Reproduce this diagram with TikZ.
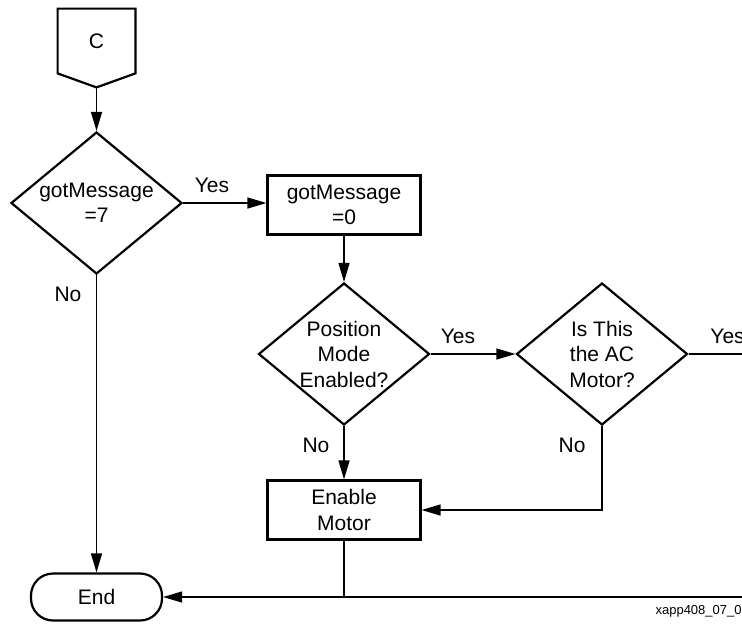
\documentclass[tikz,border=0pt]{standalone}
\usepackage{fontspec}
\setmainfont{Liberation Sans}
\usetikzlibrary{shapes.geometric,arrows.meta}
\begin{document}
\begin{tikzpicture}[x=0.5pt,y=-0.5pt]
\tikzstyle{every node}+=[inner sep=0pt, align=center, font=\fontsize{10.5}{12.75}\selectfont]
\tikzstyle{decision}=[draw, line width=1.1pt, diamond, aspect=1.2, minimum width=85.5pt, minimum height=71pt]
\tikzstyle{process}=[draw, line width=1.1pt, rectangle, minimum width=76.5pt, minimum height=29.5pt]
\tikzstyle{terminal}=[draw, line width=1.1pt, rectangle, rounded corners=11pt, minimum width=65.5pt, minimum height=23.5pt]
\tikzstyle{flow}=[line width=0.65pt, -{Triangle[length=9.5pt,width=5.5pt]}]
\tikzstyle{line}=[line width=0.65pt]
\useasboundingbox (0,0) rectangle (742,632);
\node (C) [minimum width=38.5pt, minimum height=32pt] at (96.5,41) {C};
\coordinate (Ctip) at ([yshift=-7pt]C.south);
\draw [line width=1.1pt] (C.north west) -- (C.north east) -- (C.south east) -- (Ctip) -- (C.south west) -- cycle;
\node (got7) [decision] at (96.5,203) {gotMessage\\=7};
\node (got0) [process] at (344,205) {gotMessage\\=0};
\node (posmode) [decision] at (344,354) {Position\\Mode\\Enabled?};
\node (acmotor) [decision] at (602,354) {Is This\\the AC\\Motor?};
\node (enable) [process] at (344,510) {Enable\\Motor};
\node (end) [terminal] at (96.5,597) {End};
\coordinate (acyes) at (742,354);
\coordinate (busR) at (742,597);
\draw [flow] (Ctip) -- (got7.north);
\draw [flow] (got7.east) -- (got7.east -| got0.west);
\draw (212,185) node {Yes};
\draw [flow] (got7.south) -- (end.north);
\draw (68,294) node {No};
\draw [flow] (got0.south) -- (posmode.north);
\draw [flow] (posmode.east) -- (acmotor.west);
\draw (458,336) node {Yes};
\draw [flow] (posmode.south) -- (enable.north);
\draw (316,445) node {No};
\draw [line] (acmotor.east) -- (acyes);
\draw (710,336) node [anchor=west] {Yes};
\draw [flow] (acmotor.south) |- (enable.east);
\draw (572,445) node {No};
\draw [line] (enable.south) -- (enable.south |- busR);
\draw [flow] (busR) -- (end.east);
\draw (742,611) node [anchor=east, font=\fontsize{6.5}{8}\selectfont] {xapp408\_07\_0};
\end{tikzpicture}
\end{document}
